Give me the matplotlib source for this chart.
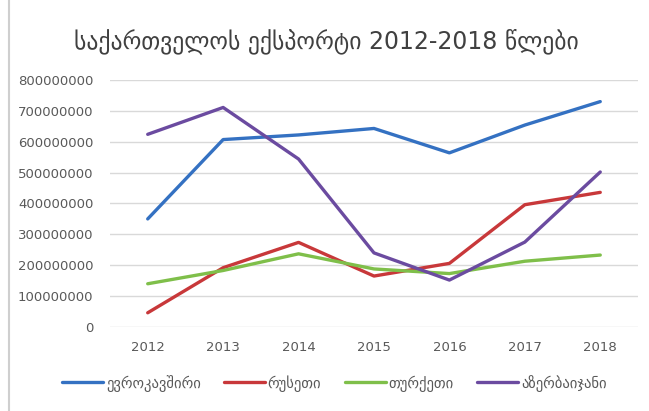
import numpy as np
import matplotlib
matplotlib.use("Agg")
import matplotlib.pyplot as plt

# Georgian exports 2012-2018
years = ["2012", "2013", "2014", "2015", "2016", "2017", "2018"]
eu = [350e6, 607e6, 622e6, 643e6, 564e6, 654e6, 730e6]
russia = [46e6, 192e6, 274e6, 165e6, 206e6, 396e6, 436e6]
turkey = [140e6, 183e6, 237e6, 188e6, 173e6, 213e6, 233e6]
azerbaijan = [624e6, 711e6, 544e6, 240e6, 152e6, 275e6, 502e6]

series_names = ["ევროკავშირი", "რუსეთი", "თურქეთი", "აზერბაიჯანი"]
colors = ["#3471c2", "#c8383a", "#7fbf4a", "#6b4ba0"]

plt.rcParams["font.family"] = ["DejaVu Sans"]

fig = plt.figure(figsize=(6.49, 4.11), dpi=100)
ax = fig.add_axes([0.1695, 0.2044, 0.8135, 0.601])

x = np.arange(len(years))
for vals, name, c in zip([eu, russia, turkey, azerbaijan], series_names, colors):
    ax.plot(x, vals, color=c, linewidth=2.4, label=name, solid_capstyle="round")

ax.set_xlim(-0.5, len(years) - 0.5)
ax.set_ylim(0, 800e6)
ax.set_yticks(np.arange(0, 800e6 + 1, 100e6))
ax.set_yticklabels([f"{int(v)}" for v in np.arange(0, 800e6 + 1, 100e6)])
ax.set_xticks(x)
ax.set_xticklabels(years)

ax.grid(axis="y", color="#d9d9d9", linewidth=1)
ax.set_axisbelow(True)
for s in ax.spines.values():
    s.set_visible(False)
ax.tick_params(length=0, labelsize=9.5, labelcolor="#595959")
ax.tick_params(axis="y", pad=12)
ax.tick_params(axis="x", pad=10)

fig.text(0.503, 0.9, "საქართველოს ექსპორტი 2012-2018 წლები",
         ha="center", va="center", fontsize=17, color="#404040")

fig.legend(loc="center", bbox_to_anchor=(0.515, 0.068), ncol=4, frameon=False,
           fontsize=10.5, handlelength=2.8, handletextpad=0.2, columnspacing=1.6,
           labelcolor="#595959")

# thin frame line at the left edge, as in the screenshot
fig.add_artist(plt.Line2D([0.014, 0.014], [0, 1], transform=fig.transFigure,
                          color="#cfcfcf", linewidth=1.5))

fig.savefig("out.png", dpi=100)
